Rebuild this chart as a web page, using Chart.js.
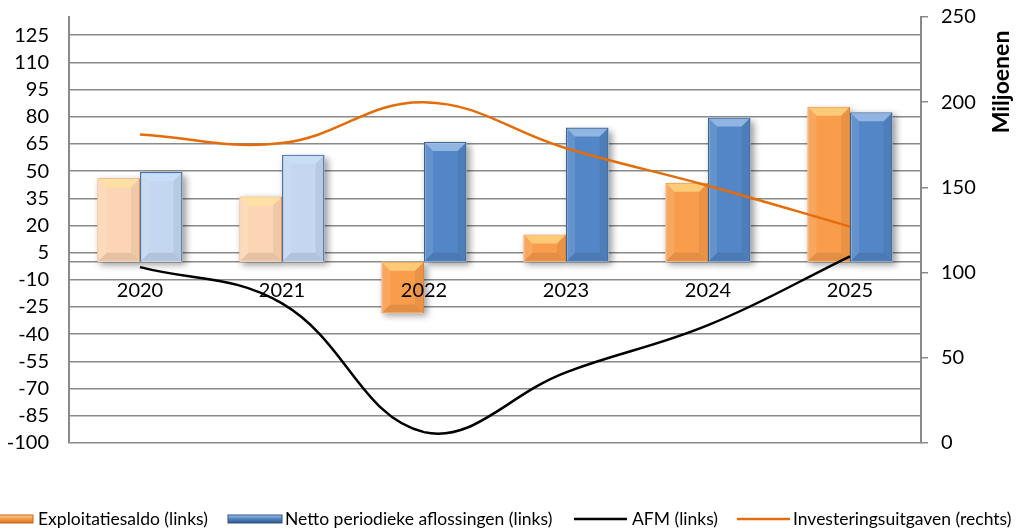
<!DOCTYPE html>
<html>
<head>
<meta charset="utf-8">
<script src="https://cdn.jsdelivr.net/npm/chart.js@4"></script>
<style>
  html, body { margin: 0; padding: 0; background: #fff; }
  #wrap { width: 1016px; height: 530px; position: relative; }
</style>
</head>
<body>
<div id="wrap"><canvas id="afmChart"></canvas></div>
<script>
// Data
const years = ['2020', '2021', '2022', '2023', '2024', '2025'];
const realisatieYears = ['2020', '2021'];
const exploitatiesaldo = [46, 36, -28.5, 15, 43.5, 85.5];
const nettoAflossingen = [49.5, 59, 66, 74, 79.5, 82.5];
const afm = [-3, -23, -94, -61, -35, 3];
const investeringen = [181, 176, 200, 173, 151, 127];
const leftTicks = [-100, -85, -70, -55, -40, -25, -10, 5, 20, 35, 50, 65, 80, 95, 110, 125];
const rightTicks = [0, 50, 100, 150, 200, 250];
const seriesNames = ['Exploitatiesaldo (links)', 'Netto periodieke aflossingen (links)', 'AFM (links)', 'Investeringsuitgaven (rechts)'];

Chart.defaults.font.family = 'Lato, "Open Sans", sans-serif';
Chart.defaults.color = '#000';

const gridGray = '#8a8a8a';

function isRealisatie(ctx) {
  return realisatieYears.includes(years[ctx.dataIndex]);
}

// keep tick labels from pushing the plot area inwards
function noPadding(scale) {
  scale.paddingTop = 0;
  scale.paddingBottom = 0;
}

function barBox(bar) {
  const p = bar.getProps(['x', 'y', 'base', 'width'], true);
  return {
    l: p.x - p.width / 2, r: p.x + p.width / 2,
    t: Math.min(p.y, p.base), b: Math.max(p.y, p.base)
  };
}

function quad(ctx, pts, fill) {
  ctx.beginPath();
  ctx.moveTo(pts[0][0], pts[0][1]);
  for (let i = 1; i < pts.length; i++) ctx.lineTo(pts[i][0], pts[i][1]);
  ctx.closePath();
  ctx.fillStyle = fill;
  ctx.fill();
}

// drop shadow pass (under all bars) + bevel on each bar
const bevelPlugin = {
  id: 'bevel',
  beforeDatasetsDraw(chart) {
    const ctx = chart.ctx;
    ctx.save();
    ctx.shadowColor = 'rgba(0,0,0,0.4)';
    ctx.shadowBlur = 7;
    ctx.shadowOffsetX = 3;
    ctx.shadowOffsetY = 3;
    ctx.fillStyle = '#fff';
    chart.getSortedVisibleDatasetMetas().forEach(meta => {
      if (meta.type !== 'bar') return;
      meta.data.forEach(bar => {
        const s = barBox(bar);
        ctx.fillRect(s.l, s.t, s.r - s.l, s.b - s.t);
      });
    });
    ctx.restore();
  },
  afterDatasetDraw(chart, args) {
    if (args.meta.type !== 'bar') return;
    const ctx = chart.ctx;
    const topTint = args.index === 2 ? 'rgba(255,232,150,0.6)' : 'rgba(205,228,255,0.5)';
    ctx.save();
    args.meta.data.forEach(bar => {
      const s = barBox(bar);
      const l = s.l + 1, r = s.r - 1, t = s.t + 1, b = s.b - 1;
      const d = Math.min(8, (b - t) / 2);
      quad(ctx, [[l, t], [r, t], [r - d, t + d], [l + d, t + d]], topTint);
      quad(ctx, [[l, t], [l + d, t + d], [l + d, b - d], [l, b]], 'rgba(255,255,255,0.1)');
      quad(ctx, [[r, t], [r - d, t + d], [r - d, b - d], [r, b]], 'rgba(0,0,0,0.06)');
      quad(ctx, [[l, b], [r, b], [r - d, b - d], [l + d, b - d]], 'rgba(0,0,0,0.09)');
    });
    ctx.restore();
  }
};

// axis title + legend
const extrasPlugin = {
  id: 'extras',
  afterDraw(chart) {
    const ctx = chart.ctx;
    ctx.save();
    ctx.translate(1002, 82);
    ctx.rotate(-Math.PI / 2);
    ctx.font = 'bold 23px Lato, sans-serif';
    ctx.fillStyle = '#000';
    ctx.textAlign = 'center';
    ctx.textBaseline = 'middle';
    ctx.fillText('Miljoenen', 0, 0);
    ctx.restore();

    const ly = 519;
    ctx.save();
    // orange box
    let g = ctx.createLinearGradient(0, ly - 4, 0, ly + 4);
    g.addColorStop(0, '#fcd39a');
    g.addColorStop(0.4, '#f8a350');
    g.addColorStop(1, '#d9731f');
    ctx.fillStyle = g;
    ctx.fillRect(-21, ly - 4, 54, 8);
    ctx.strokeStyle = '#c8651a';
    ctx.lineWidth = 1;
    ctx.strokeRect(-21, ly - 4, 54, 8);
    // blue box
    g = ctx.createLinearGradient(0, ly - 4, 0, ly + 4);
    g.addColorStop(0, '#a7c8ee');
    g.addColorStop(0.4, '#5a8bca');
    g.addColorStop(1, '#2f5585');
    ctx.fillStyle = g;
    ctx.fillRect(228, ly - 4, 54, 8);
    ctx.strokeStyle = '#2f5585';
    ctx.strokeRect(228, ly - 4, 54, 8);
    // lines
    ctx.lineWidth = 2.5;
    ctx.strokeStyle = '#000';
    ctx.beginPath(); ctx.moveTo(574, ly); ctx.lineTo(627, ly); ctx.stroke();
    ctx.strokeStyle = '#e46c0a';
    ctx.beginPath(); ctx.moveTo(737, ly); ctx.lineTo(790, ly); ctx.stroke();

    ctx.font = '17.5px Lato, sans-serif';
    ctx.fillStyle = '#000';
    ctx.textAlign = 'left';
    ctx.textBaseline = 'middle';
    const tx = [38, 285, 632, 793];
    const tw = [172, 270, 86, 222];
    seriesNames.forEach((name, i) => ctx.fillText(name, tx[i], ly, tw[i]));
    ctx.restore();
  }
};

new Chart(document.getElementById('afmChart'), {
  type: 'bar',
  data: {
    labels: years,
    datasets: [
      {
        type: 'line',
        label: seriesNames[2],
        data: afm,
        yAxisID: 'y',
        borderColor: '#000',
        borderWidth: 2.5,
        pointRadius: 0,
        tension: 0.4,
        fill: false,
        order: 0
      },
      {
        type: 'line',
        label: seriesNames[3],
        data: investeringen,
        yAxisID: 'y1',
        borderColor: '#e46c0a',
        borderWidth: 2.5,
        pointRadius: 0,
        tension: 0.4,
        fill: false,
        order: 1
      },
      {
        label: seriesNames[0],
        data: exploitatiesaldo,
        yAxisID: 'y',
        backgroundColor: ctx => isRealisatie(ctx) ? '#fcd6b4' : '#f99d4c',
        borderColor: ctx => isRealisatie(ctx) ? '#e9924a' : '#df8634',
        borderWidth: 1,
        categoryPercentage: 0.6,
        barPercentage: 1,
        order: 2
      },
      {
        label: seriesNames[1],
        data: nettoAflossingen,
        yAxisID: 'y',
        backgroundColor: ctx => isRealisatie(ctx) ? '#c3d7f0' : '#5386c6',
        borderColor: ctx => isRealisatie(ctx) ? '#4a72a6' : '#3a6396',
        borderWidth: 1.5,
        categoryPercentage: 0.6,
        barPercentage: 1,
        order: 3
      }
    ]
  },
  options: {
    responsive: true,
    maintainAspectRatio: false,
    animation: false,
    layout: {
      padding: { top: 17, bottom: 87, left: 0, right: 0 }
    },
    plugins: {
      legend: { display: false },
      tooltip: { enabled: false }
    },
    scales: {
      x: {
        position: { y: 0 },
        afterFit: noPadding,
        grid: { display: false, drawTicks: false },
        border: { display: true, color: gridGray, width: 1.5 },
        ticks: { padding: 17, font: { size: 20 }, color: '#000', z: 1 }
      },
      y: {
        position: 'left',
        min: -100,
        max: 135,
        afterBuildTicks: scale => { scale.ticks = leftTicks.map(v => ({ value: v })); },
        afterFit: scale => { scale.width = 69; noPadding(scale); },
        grid: { color: gridGray, lineWidth: 1.5, drawTicks: false },
        border: { display: true, color: gridGray, width: 2 },
        ticks: { padding: 20, font: { size: 20 }, color: '#000' }
      },
      y1: {
        position: 'right',
        min: 0,
        max: 250,
        afterBuildTicks: scale => { scale.ticks = rightTicks.map(v => ({ value: v })); },
        afterFit: scale => { scale.width = 95; noPadding(scale); },
        grid: { drawOnChartArea: false, drawTicks: true, tickLength: 7, color: gridGray, lineWidth: 1.5 },
        border: { display: true, color: gridGray, width: 2 },
        ticks: { padding: 13, font: { size: 20 }, color: '#000' }
      }
    }
  },
  plugins: [bevelPlugin, extrasPlugin]
});
</script>
</body>
</html>
